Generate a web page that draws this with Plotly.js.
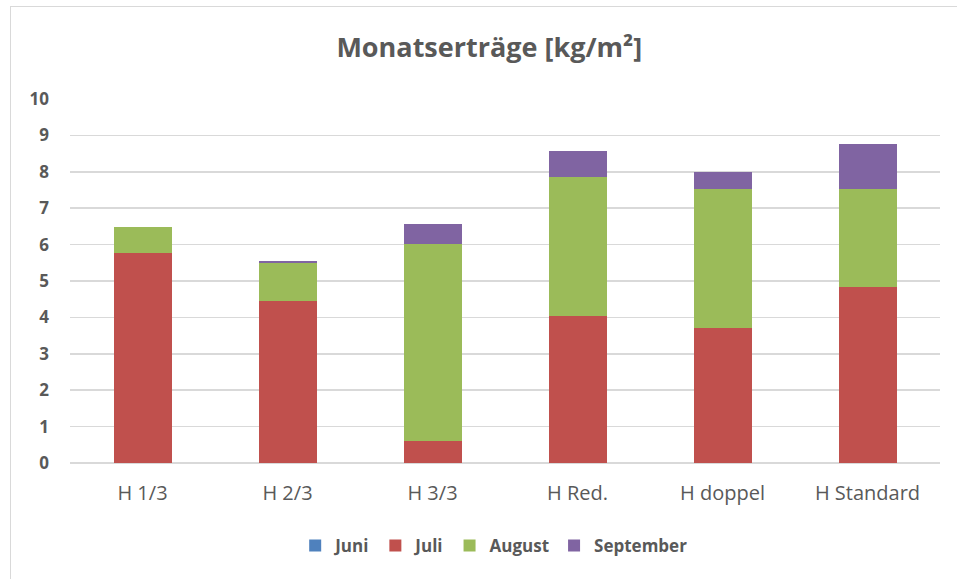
<!DOCTYPE html>
<html>
<head>
<meta charset="utf-8">
<script src="https://cdn.plot.ly/plotly-3.0.1.min.js"></script>
<style>
  html, body { margin: 0; padding: 0; background: #fff; }
  #wrap { position: relative; width: 957px; height: 579px; overflow: hidden; }
  #chart { width: 957px; height: 579px; }
  #frame { position: absolute; left: 10px; top: 6px; width: 1000px; height: 1000px;
           border-left: 1.5px solid #d9d9d9; border-top: 1.5px solid #d9d9d9; pointer-events: none; }
</style>
</head>
<body>
<div id="wrap">
  <div id="chart"></div>
  <div id="frame"></div>
</div>
<script>
const categories = ["H 1/3", "H 2/3", "H 3/3", "H Red.", "H doppel", "H Standard"];
const juni      = [0, 0, 0, 0, 0, 0];
const juli      = [5.77, 4.45, 0.61, 4.04, 3.71, 4.84];
const august    = [0.71, 1.05, 5.41, 3.83, 3.81, 2.69];
const september = [0, 0.04, 0.54, 0.70, 0.48, 1.23];
const yTicks = [0, 1, 2, 3, 4, 5, 6, 7, 8, 9, 10];

const fontFam = "Open Sans, Liberation Sans, sans-serif";
const gray = "#595959";

function series(name, vals, color) {
  return { type: "bar", name: name, x: categories, y: vals,
           marker: { color: color, line: { width: 0 } },
           hoverinfo: "x+y+name" };
}

const data = [
  series("Juni", juni, "#4f81bd"),
  series("Juli", juli, "#c0504d"),
  series("August", august, "#9bbb59"),
  series("September", september, "#8064a2")
];

const layout = {
  width: 957, height: 579,
  margin: { l: 70, r: 17, t: 99, b: 116 },
  barmode: "stack",
  bargap: 0.6,
  paper_bgcolor: "#fff", plot_bgcolor: "#fff",
  font: { family: fontFam, color: gray },
  title: { text: "Monatserträge [kg/m²]", font: { family: fontFam, size: 27, color: gray, weight: "bold" },
           x: 0.482, xanchor: "center", xref: "paper", y: 1 - 48/579, yanchor: "middle", yref: "container" },
  xaxis: { type: "category", tickfont: { size: 20, color: gray, family: fontFam },
           showgrid: false, showline: false, ticks: "", ticklabelstandoff: 16 },
  yaxis: { range: [0, 10], tickvals: yTicks, ticktext: yTicks.map(String),
           tickfont: { size: 17, color: gray, family: fontFam, weight: "bold" },
           showgrid: true, gridcolor: "#d9d9d9", gridwidth: 1.5,
           zeroline: true, zerolinecolor: "#d9d9d9", zerolinewidth: 1.5,
           showline: false, ticks: "", ticklabelstandoff: 20 },
  legend: { orientation: "h", x: 0.487, xanchor: "center", y: -0.228, yanchor: "middle",
            font: { size: 17, color: gray, family: fontFam, weight: "bold" },
            traceorder: "normal", itemwidth: 30, tracegroupgap: 0 },
  showlegend: true
};

Plotly.newPlot("chart", data, layout, { displayModeBar: false, staticPlot: true });
</script>
</body>
</html>
